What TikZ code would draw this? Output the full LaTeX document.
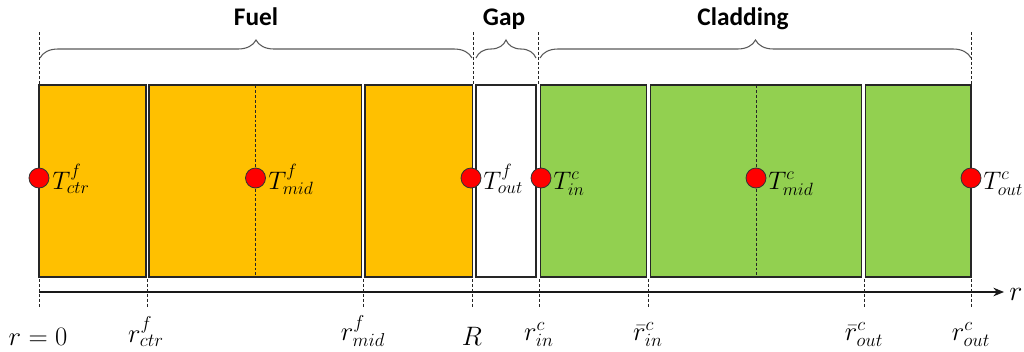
\documentclass[tikz,border=0pt]{standalone}
\usepackage{fix-cm}
\usepackage{fontspec}
\newfontfamily\titlefont{Carlito}
\usetikzlibrary{decorations.pathreplacing,arrows.meta,calc}
\definecolor{fuelc}{HTML}{FFC000}
\definecolor{cladc}{HTML}{92D050}
\begin{document}
\begin{tikzpicture}[x=0.75pt,y=-0.75pt,
  outline/.style={draw=black!85,line width=0.9pt},
  fuelbox/.style={outline,fill=fuelc},
  cladbox/.style={outline,fill=cladc},
  gapbox/.style={outline,fill=white},
  guide/.style={dash pattern=on 2.2pt off 1.5pt, line width=0.6pt, draw=black!85},
  bracestyle/.style={decorate,decoration={brace,amplitude=13.5pt},draw=black!65,line width=0.8pt},
  dot/.style={circle,fill=red,draw=black!80,line width=0.6pt,minimum size=15pt,inner sep=0pt},
  tlab/.style={anchor=base west,inner sep=0pt,font=\fontsize{19}{21}\selectfont},
  rlab/.style={anchor=south,inner sep=0pt,font=\fontsize{20}{22}\selectfont},
  title/.style={anchor=base,inner sep=0pt,font=\titlefont\bfseries\fontsize{19}{21}\selectfont}
]
\useasboundingbox (0,0) rectangle (1024,351);

% layer boxes
\path[fuelbox] (39,85) rectangle (146,277);
\path[fuelbox] (149,85) rectangle (361.5,277);
\path[fuelbox] (365,85) rectangle (472.5,277);
\path[gapbox]  (476,85) rectangle (536,277);
\path[cladbox] (540.5,85) rectangle (646.5,277);
\path[cladbox] (650.5,85) rectangle (861.5,277);
\path[cladbox] (865.5,85) rectangle (971,277);

% inner mid lines
\draw[guide] (255.5,85) -- (255.5,277);
\draw[guide] (756,85) -- (756,277);

% top guides
\foreach \x in {39,473,538.5,971} \draw[guide] (\x,32) -- (\x,85);

% braces
\draw[bracestyle] (40,58) -- (472,58);
\draw[bracestyle] (476,58) -- (536,58);
\draw[bracestyle] (540,58) -- (971,58);

\node[title] (fuel) at (256,25) {Fuel};
\node[title] (gap) at (504,25) {Gap};
\node[title] (clad) at (743,25) {Cladding};

% axis
\coordinate (a0) at (39,292);
\coordinate (a1) at (1004,292);
\draw[line width=0.9pt,black!90,-{Stealth[length=8pt,width=6.5pt]}] (a0) -- (a1);
\node[anchor=base west,inner sep=0pt,font=\fontsize{21}{23}\selectfont] (rax) at (1009,300) {$r$};

% bottom ticks
\foreach \x in {39,147,363,472.5,539,648,864,971} \draw[guide] (\x,279) -- (\x,308);

\node[rlab] (l0) at (38,346) {$r=0$};
\node[rlab] (l1) at (146,347) {$r_{ctr}^{f}$};
\node[rlab] (l2) at (363,347) {$r_{mid}^{f}$};
\node[rlab] (l3) at (472,346) {$R$};
\node[rlab] (l4) at (539,347) {$r_{in}^{c}$};
\node[rlab] (l5) at (648,347) {$\bar{r}_{in}^{c}$};
\node[rlab] (l6) at (864,347) {$\bar{r}_{out}^{c}$};
\node[rlab] (l7) at (971,347) {$r_{out}^{c}$};

% temperature points
\node[dot] (d1) at (39,178) {};
\node[dot] (d2) at (255.5,178) {};
\node[dot] (d3) at (471,178) {};
\node[dot] (d4) at (541,178) {};
\node[dot] (d5) at (756,178) {};
\node[dot] (d6) at (971,178) {};

\node[tlab] (t1) at (52,189) {$T_{ctr}^{f}$};
\node[tlab] (t2) at (268,189) {$T_{mid}^{f}$};
\node[tlab] (t3) at (483,189) {$T_{out}^{f}$};
\node[tlab] (t4) at (553,189) {$T_{in}^{c}$};
\node[tlab] (t5) at (768,189) {$T_{mid}^{c}$};
\node[tlab] (t6) at (983,189) {$T_{out}^{c}$};
\end{tikzpicture}
\end{document}
